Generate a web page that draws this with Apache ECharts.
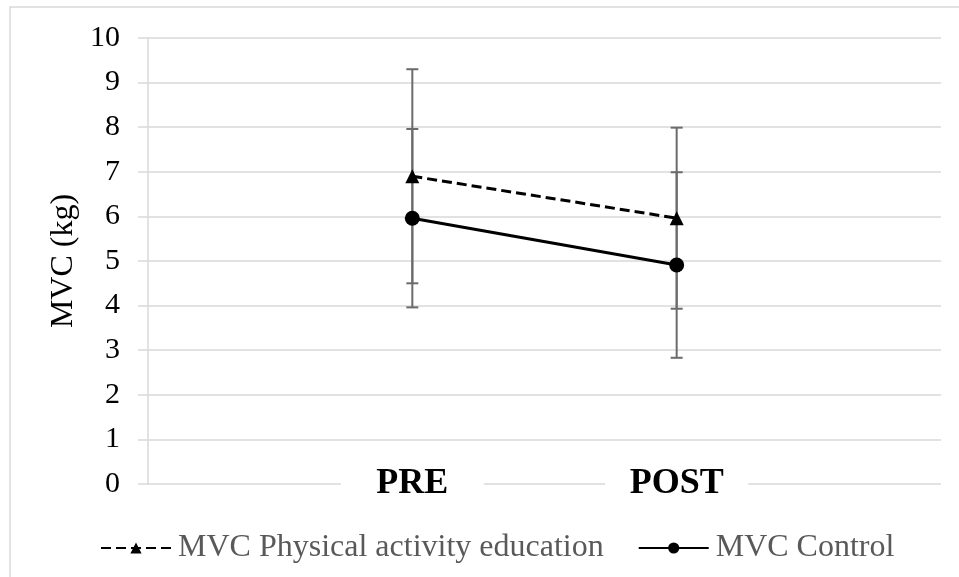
<!DOCTYPE html>
<html>
<head>
<meta charset="utf-8">
<script src="https://cdn.jsdelivr.net/npm/echarts@6/dist/echarts.min.js"></script>
<style>
  html, body { margin: 0; padding: 0; background: #fff; }
</style>
</head>
<body>
<div id="main" style="width: 959px; height: 577px"></div>
<script>
var categories = ['PRE', 'POST']
var paeName = 'MVC Physical activity education'
var paeMean = [6.9, 5.96]
var paeSd = [2.4, 2.03]
var ctrlName = 'MVC Control'
var ctrlMean = [5.96, 4.91]
var ctrlSd = [2.0, 2.08]
var yTicks = [0, 1, 2, 3, 4, 5, 6, 7, 8, 9, 10]

var serif = '"Liberation Serif", "Times New Roman", serif'

// one empty slot either side, so PRE / POST sit at 1/3 and 2/3 of the width
var axisCats = [''].concat(categories).concat([''])
function pad(arr) { return [null].concat(arr).concat([null]) }

function errData(mean, sd) {
  return categories.map(function (c, i) {
    return [c, mean[i] - sd[i], mean[i] + sd[i]]
  })
}

function renderErr(params, api) {
  var lo = api.coord([api.value(0), api.value(1)])
  var hi = api.coord([api.value(0), api.value(2)])
  var cap = 6
  var style = { stroke: '#6b6b6b', lineWidth: 2 }
  return {
    type: 'group',
    children: [
      { type: 'line', shape: { x1: lo[0], y1: lo[1], x2: hi[0], y2: hi[1] }, style: style },
      { type: 'line', shape: { x1: lo[0] - cap, y1: lo[1], x2: lo[0] + cap, y2: lo[1] }, style: style },
      { type: 'line', shape: { x1: hi[0] - cap, y1: hi[1], x2: hi[0] + cap, y2: hi[1] }, style: style }
    ]
  }
}

var myChart = echarts.init(document.getElementById('main'))
var option = {
  animation: false,
  backgroundColor: '#fff',
  textStyle: { fontFamily: serif },
  graphic: [{
    type: 'rect',
    shape: { x: 10, y: 7, width: 980, height: 600 },
    style: { fill: null, stroke: '#d9d9d9', lineWidth: 1.5 },
    silent: true
  }],
  grid: { left: 148, right: 18, top: 38, bottom: 93 },
  legend: {
    data: [paeName, ctrlName],
    left: 95,
    top: 527,
    itemWidth: 70,
    itemHeight: 14,
    itemGap: 34,
    textStyle: { fontFamily: serif, fontSize: 32, color: '#595959', padding: [0, 0, 0, 2] }
  },
  xAxis: {
    type: 'category',
    data: axisCats,
    boundaryGap: false,
    z: 5,
    axisLine: { show: false },
    axisTick: { show: false },
    splitLine: { show: false },
    axisLabel: {
      margin: 0,
      verticalAlign: 'middle',
      formatter: function (v) { return v ? '{a|' + v + '}' : '' },
      rich: {
        a: {
          fontFamily: serif,
          fontSize: 36,
          fontWeight: 'bold',
          color: '#000',
          backgroundColor: '#fff',
          width: 143,
          height: 34,
          align: 'center'
        }
      }
    }
  },
  yAxis: {
    type: 'value',
    min: 0,
    max: 10,
    interval: 1,
    name: 'MVC (kg)',
    nameLocation: 'middle',
    nameGap: 68,
    nameTextStyle: { fontFamily: serif, fontSize: 32, color: '#000' },
    axisLine: { show: true, lineStyle: { color: '#d9d9d9', width: 1.5 } },
    axisTick: { show: true, length: 10, lineStyle: { color: '#d9d9d9', width: 1.5 } },
    axisLabel: {
      margin: 28,
      fontFamily: serif,
      fontSize: 30,
      color: '#000',
      formatter: function (v) { return yTicks.indexOf(v) >= 0 ? String(v) : '' }
    },
    splitLine: { show: true, lineStyle: { color: '#d9d9d9', width: 1.5 } }
  },
  series: [
    {
      type: 'custom',
      name: 'errPae',
      renderItem: renderErr,
      encode: { x: 0, y: [1, 2] },
      data: errData(paeMean, paeSd),
      z: 1
    },
    {
      type: 'custom',
      name: 'errCtrl',
      renderItem: renderErr,
      encode: { x: 0, y: [1, 2] },
      data: errData(ctrlMean, ctrlSd),
      z: 1
    },
    {
      name: paeName,
      type: 'line',
      data: pad(paeMean),
      symbol: 'triangle',
      symbolSize: 14,
      itemStyle: { color: '#000' },
      lineStyle: { color: '#000', width: 3, type: [10, 5] },
      z: 3
    },
    {
      name: ctrlName,
      type: 'line',
      data: pad(ctrlMean),
      symbol: 'circle',
      symbolSize: 15,
      itemStyle: { color: '#000' },
      lineStyle: { color: '#000', width: 3 },
      z: 3
    }
  ]
}
myChart.setOption(option)
</script>
</body>
</html>
